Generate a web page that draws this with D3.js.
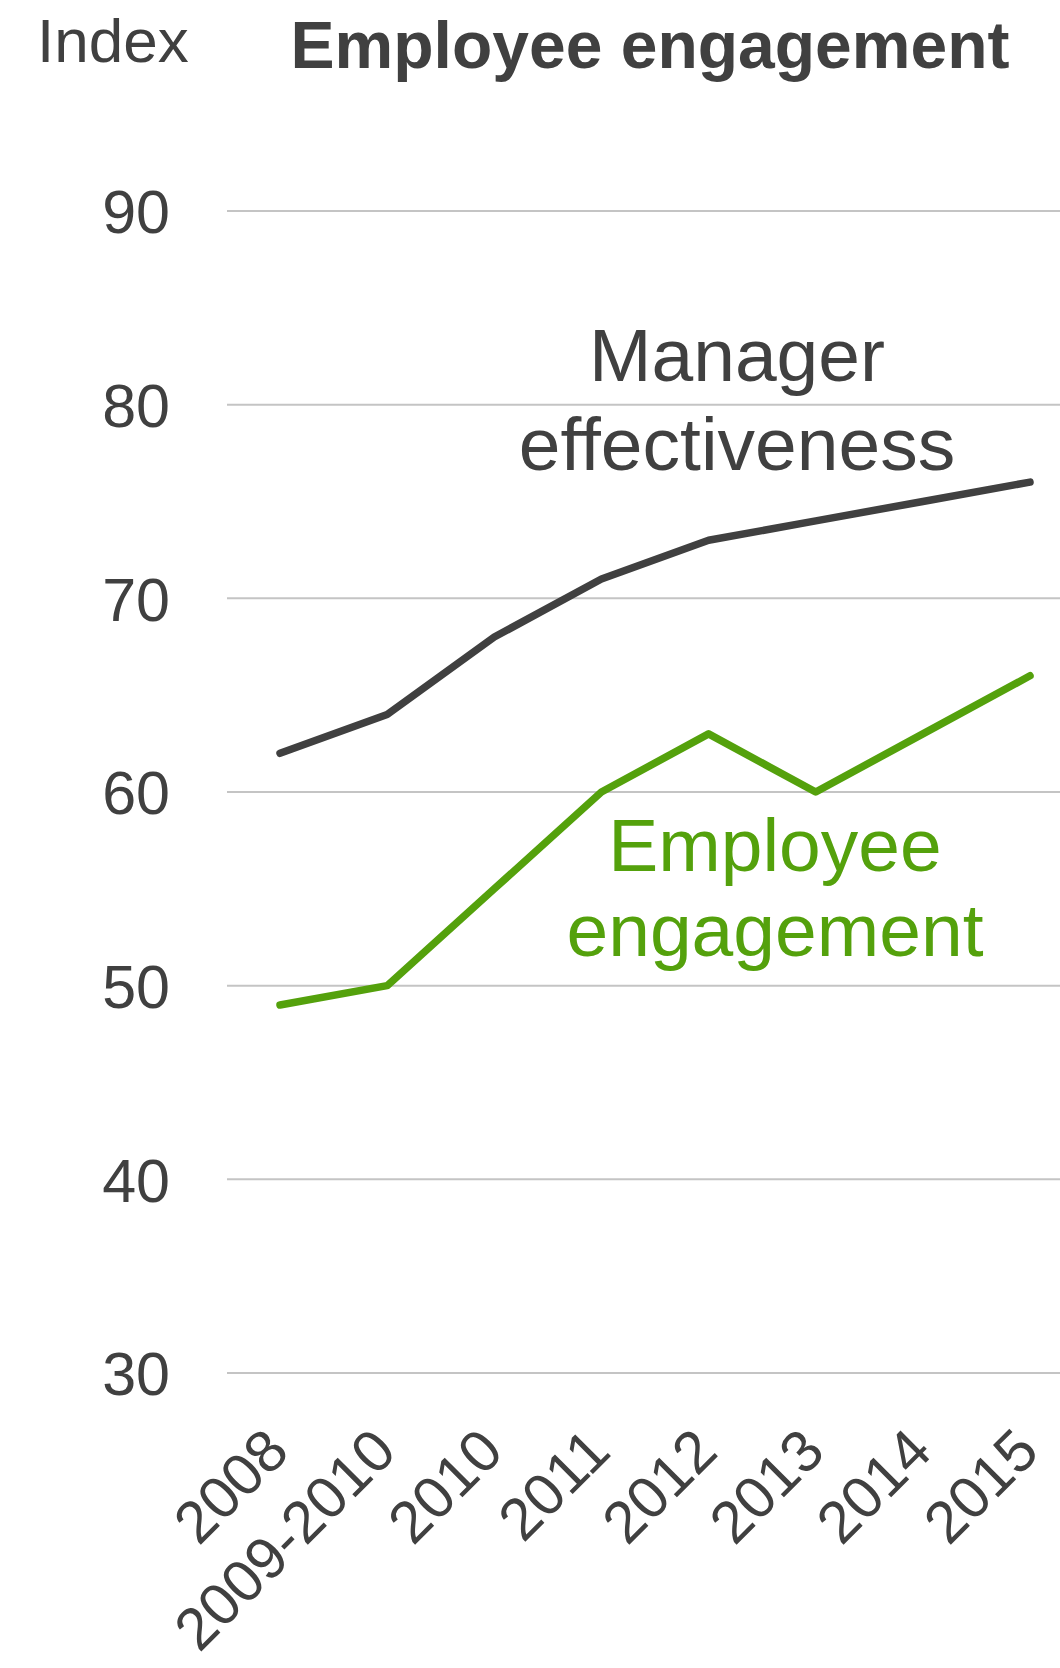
<!DOCTYPE html>
<html>
<head>
<meta charset="utf-8">
<script src="https://cdn.jsdelivr.net/npm/d3@7"></script>
<style>
  body { margin: 0; background: #fff; }
  svg text { font-family: "Liberation Sans", Arial, sans-serif; fill: #404040; }
</style>
</head>
<body>
<div id="chart"></div>
<script>
let years = ["2008", "2009-2010", "2010", "2011", "2012", "2013", "2014", "2015"];
let managerEffectiveness = [62, 64, 68, 71, 73, 74, 75, 76];
let employeeEngagement = [49, 50, 55, 60, 63, 60, 63, 66];
let yTicks = [30, 40, 50, 60, 70, 80, 90];

let width = 1060;
let height = 1668;
let green = "#54a10c";
let dark = "#404040";

let svg = d3
  .select("#chart")
  .append("svg")
  .attr("width", width)
  .attr("height", height);

let xScale = d3.scalePoint().domain(years).range([280, 1030]);
let yScale = d3.scaleLinear().domain([30, 90]).range([1373, 211]);

// gridlines
svg
  .append("g")
  .selectAll("line")
  .data(yTicks)
  .enter()
  .append("line")
  .attr("x1", 227)
  .attr("x2", width)
  .attr("y1", d => yScale(d))
  .attr("y2", d => yScale(d))
  .attr("stroke", "#c4c4c4")
  .attr("stroke-width", 2);

// y axis labels
let yAxis = d3.axisLeft(yScale).tickValues(yTicks).tickSize(0).tickPadding(0);
let yG = svg.append("g").attr("transform", "translate(170,0)").call(yAxis);
yG.select(".domain").remove();
yG.selectAll("text")
  .attr("font-size", 61)
  .attr("font-family", "Liberation Sans, Arial, sans-serif")
  .attr("fill", dark)
  .attr("dy", "0.36em");

// x axis labels
let xAxis = d3.axisBottom(xScale).tickSize(0).tickPadding(0);
let xG = svg.append("g").attr("transform", "translate(0,1373)").call(xAxis);
xG.select(".domain").remove();
xG.selectAll("text")
  .attr("font-size", 59)
  .attr("font-family", "Liberation Sans, Arial, sans-serif")
  .attr("fill", dark)
  .attr("text-anchor", "end")
  .attr("y", 0)
  .attr("dy", 0)
  .attr("transform", "translate(11,81) rotate(-45)");

// lines
let line = d3
  .line()
  .x((d, i) => xScale(years[i]))
  .y(d => yScale(d));

svg
  .append("path")
  .datum(managerEffectiveness)
  .attr("d", line)
  .attr("fill", "none")
  .attr("stroke", dark)
  .attr("stroke-width", 7.5)
  .attr("stroke-linecap", "round")
  .attr("stroke-linejoin", "round");

svg
  .append("path")
  .datum(employeeEngagement)
  .attr("d", line)
  .attr("fill", "none")
  .attr("stroke", green)
  .attr("stroke-width", 7.5)
  .attr("stroke-linecap", "round")
  .attr("stroke-linejoin", "round");

// series labels
let mLabel = svg
  .append("text")
  .attr("x", 737)
  .attr("y", 381)
  .attr("text-anchor", "middle")
  .attr("font-size", 75)
  .attr("fill", dark);
mLabel.append("tspan").attr("x", 737).text("Manager");
mLabel.append("tspan").attr("x", 737).attr("dy", 89).text("effectiveness");

let eLabel = svg
  .append("text")
  .attr("x", 775)
  .attr("y", 871)
  .attr("text-anchor", "middle")
  .attr("font-size", 75)
  .style("fill", green);
eLabel.append("tspan").attr("x", 775).text("Employee");
eLabel.append("tspan").attr("x", 775).attr("dy", 85).text("engagement");

// titles
svg
  .append("text")
  .attr("x", 37)
  .attr("y", 62)
  .attr("font-size", 62)
  .text("Index");

svg
  .append("text")
  .attr("x", 650)
  .attr("y", 68)
  .attr("text-anchor", "middle")
  .attr("font-size", 66)
  .attr("font-weight", "bold")
  .text("Employee engagement");
</script>
</body>
</html>
